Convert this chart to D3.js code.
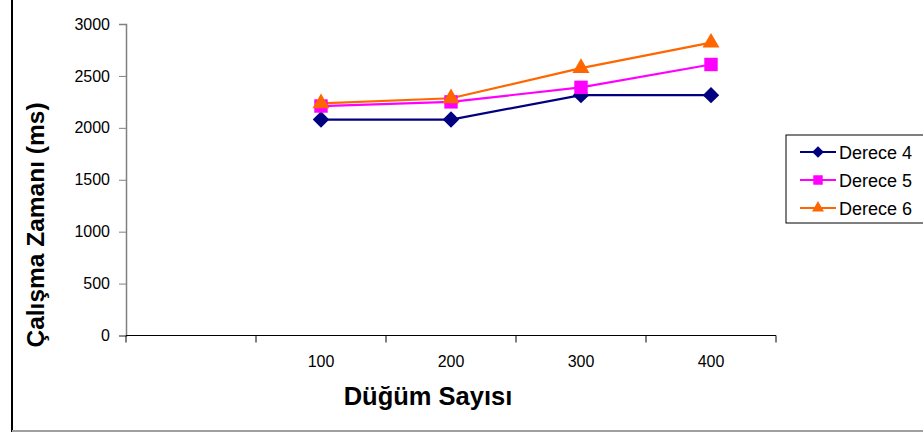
<!DOCTYPE html>
<html><head><meta charset="utf-8">
<script src="https://cdn.jsdelivr.net/npm/d3@7"></script>
<style>body{margin:0;background:#fff}svg{display:block;font-family:"Liberation Sans",Arial,sans-serif}</style>
</head><body><svg id="c" width="923" height="432"></svg>
<script>
const categories = ["", "100", "200", "300", "400"];
const seriesNames = ["Derece 4", "Derece 5", "Derece 6"];
const derece4 = [null, 2080, 2080, 2315, 2315];
const derece5 = [null, 2210, 2250, 2390, 2610];
const derece6 = [null, 2235, 2285, 2575, 2820];
const yTicks = [0, 500, 1000, 1500, 2000, 2500, 3000];
const colors = ["#000080", "#FF00FF", "#FF6600"];
const symbols = [d3.symbolSquare, d3.symbolSquare, d3.symbolTriangle];
const symRot = [45, 0, 0];
const symSizes = [135, 180, 125];

const svg = d3.select("#c");
const L = 126, R = 776, T = 24, B = 335.5;
const x = d3.scaleBand().domain(categories.map((c,i)=>i)).range([L, R]);
const y = d3.scaleLinear().domain([0, 3000]).range([B, T]);

// outer frame
svg.append("line").attr("x1",12).attr("x2",12).attr("y1",0).attr("y2",432).attr("stroke","#000").attr("stroke-width",2);
svg.append("line").attr("x1",12).attr("x2",923).attr("y1",431).attr("y2",431).attr("stroke","#a0a0a0").attr("stroke-width",2);

// y axis
const gy = svg.append("g").attr("transform",`translate(${L},0)`)
  .call(d3.axisLeft(y).tickValues(yTicks).tickFormat(d3.format("d")).tickSize(7).tickPadding(9));
gy.attr("font-size",16).attr("font-family","Liberation Sans, Arial, sans-serif");
gy.select(".domain").attr("stroke","#808080").attr("stroke-width",1.5);
gy.selectAll(".tick line").attr("stroke","#808080");
gy.selectAll("text").attr("fill","#000");

// x axis
const gx = svg.append("g").attr("transform",`translate(0,${B})`);
gx.append("line").attr("x1",L).attr("x2",R).attr("stroke","#000").attr("stroke-width",1);
const bounds = d3.range(categories.length+1).map(i => L + i*x.step());
gx.selectAll(".xt").data(bounds).join("line").attr("x1",d=>d).attr("x2",d=>d)
  .attr("y1",0).attr("y2",7).attr("stroke","#000");
gx.selectAll(".xl").data(categories).join("text")
  .attr("x",(d,i)=>x(i)+x.bandwidth()/2).attr("y",31).attr("text-anchor","middle")
  .attr("font-size",16).text(d=>d);

// axis titles
svg.append("text").attr("x",428).attr("y",405).attr("text-anchor","middle")
  .attr("font-size",25.5).attr("font-weight","bold").text("Düğüm Sayısı");
svg.append("text").attr("transform","translate(44,225) rotate(-90)").attr("text-anchor","middle")
  .attr("font-size",24.5).attr("font-weight","bold").text("Çalışma Zamanı (ms)");

// series
const allSeries = [derece4, derece5, derece6];
const line = d3.line().defined(d=>d.v!=null).x(d=>x(d.i)+x.bandwidth()/2).y(d=>y(d.v));
allSeries.forEach((s, k) => {
  const pts = s.map((v,i)=>({v,i}));
  svg.append("path").datum(pts).attr("d",line).attr("fill","none")
    .attr("stroke",colors[k]).attr("stroke-width",2.2);
});
allSeries.forEach((s, k) => {
  const pts = s.map((v,i)=>({v,i})).filter(d=>d.v!=null);
  svg.selectAll(null).data(pts).join("path")
    .attr("d", d3.symbol().type(symbols[k]).size(symSizes[k]))
    .attr("transform", d=>`translate(${x(d.i)+x.bandwidth()/2},${y(d.v)}) rotate(${symRot[k]})`)
    .attr("fill", colors[k]);
});

// legend
const lg = svg.append("g");
lg.append("rect").attr("x",786).attr("y",135).attr("width",150).attr("height",88)
  .attr("fill","#fff").attr("stroke","#000").attr("stroke-width",1);
seriesNames.forEach((n,k) => {
  const cy = 152 + k*28;
  lg.append("line").attr("x1",800).attr("x2",836).attr("y1",cy).attr("y2",cy)
    .attr("stroke",colors[k]).attr("stroke-width",2);
  lg.append("path").attr("d", d3.symbol().type(symbols[k]).size(symSizes[k]*0.5)())
    .attr("transform",`translate(818,${cy}) rotate(${symRot[k]})`).attr("fill",colors[k]);
  lg.append("text").attr("x",839).attr("y",cy+6.5).attr("font-size",18).text(n);
});
</script></body></html>
